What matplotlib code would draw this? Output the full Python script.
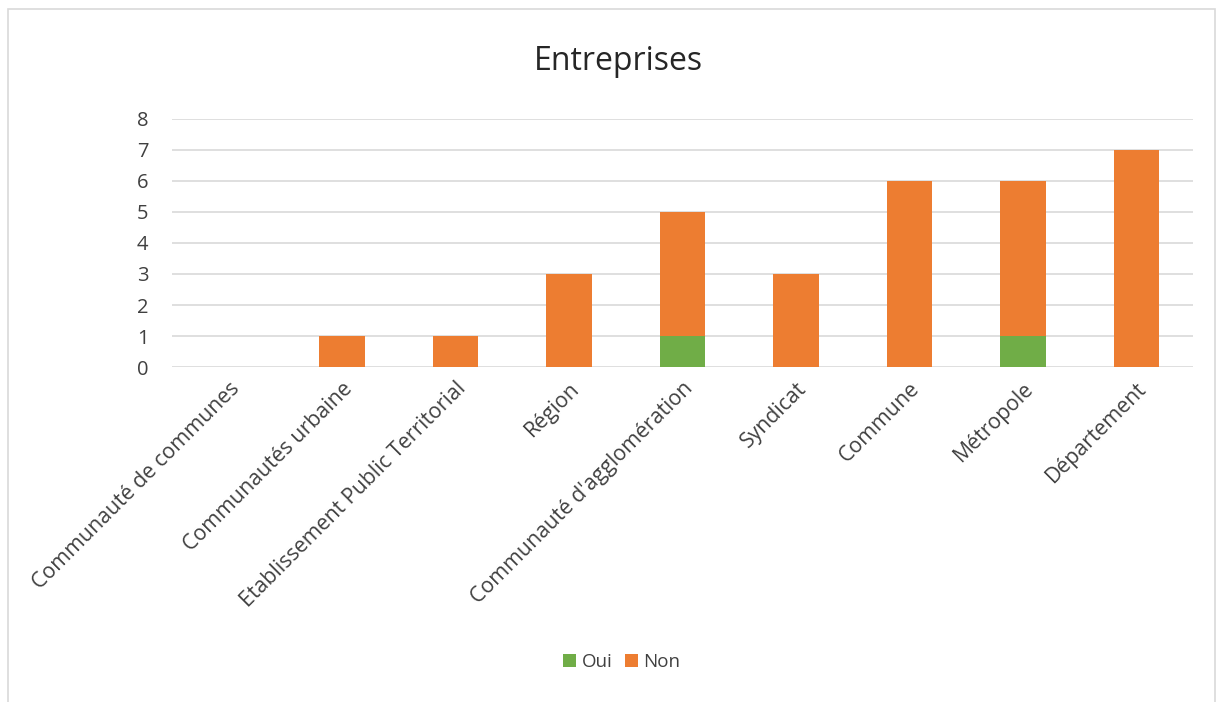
import numpy as np
import matplotlib.pyplot as plt
from matplotlib.patches import Rectangle

# data
categories = ["Communauté de communes", "Communautés urbaine", "Etablissement Public Territorial",
              "Région", "Communauté d'agglomération", "Syndicat", "Commune", "Métropole", "Département"]
oui = [0, 0, 0, 0, 1, 0, 0, 1, 0]
non = [0, 1, 1, 3, 4, 3, 6, 5, 7]

plt.rcParams['font.family'] = ['Open Sans', 'DejaVu Sans']

fig = plt.figure(figsize=(12.19, 7.02), dpi=100)
ax = fig.add_axes([0.1411, 0.4772, 0.8376, 0.3533])

x = np.arange(len(categories))
ax.bar(x, oui, width=0.4, color='#70AD47', label='Oui', zorder=3)
ax.bar(x, non, width=0.4, bottom=oui, color='#ED7D31', label='Non', zorder=3)

ax.set_xlim(-0.5, len(categories) - 0.5)
ax.set_ylim(0, 8)
ax.set_yticks(range(0, 9))
ax.yaxis.grid(True, color='#D9D9D9', linewidth=1.2, zorder=0)
for s in ax.spines.values():
    s.set_visible(False)
ax.tick_params(length=0, labelsize=14.5, colors='#404040', pad=17)
ax.tick_params(axis='x', labelsize=15.3, pad=8)
ax.set_xticks(x)
ax.set_xticklabels(categories, rotation=45, ha='right', rotation_mode='anchor')

fig.text(0.507, 0.913, "Entreprises", ha='center', va='center', fontsize=23, color='#262626')

fig.legend(loc='center', bbox_to_anchor=(0.51, 0.057), ncol=2, frameon=False,
           fontsize=13.5, handlelength=0.7, handleheight=0.7, handletextpad=0.3,
           columnspacing=0.65, labelcolor='#404040')

# chart border
fig.patches.append(Rectangle((0.0066, -0.01), 0.99, 0.997, transform=fig.transFigure,
                             fill=False, edgecolor='#D9D9D9', linewidth=1.2))

fig.savefig('out.png', dpi=100)
